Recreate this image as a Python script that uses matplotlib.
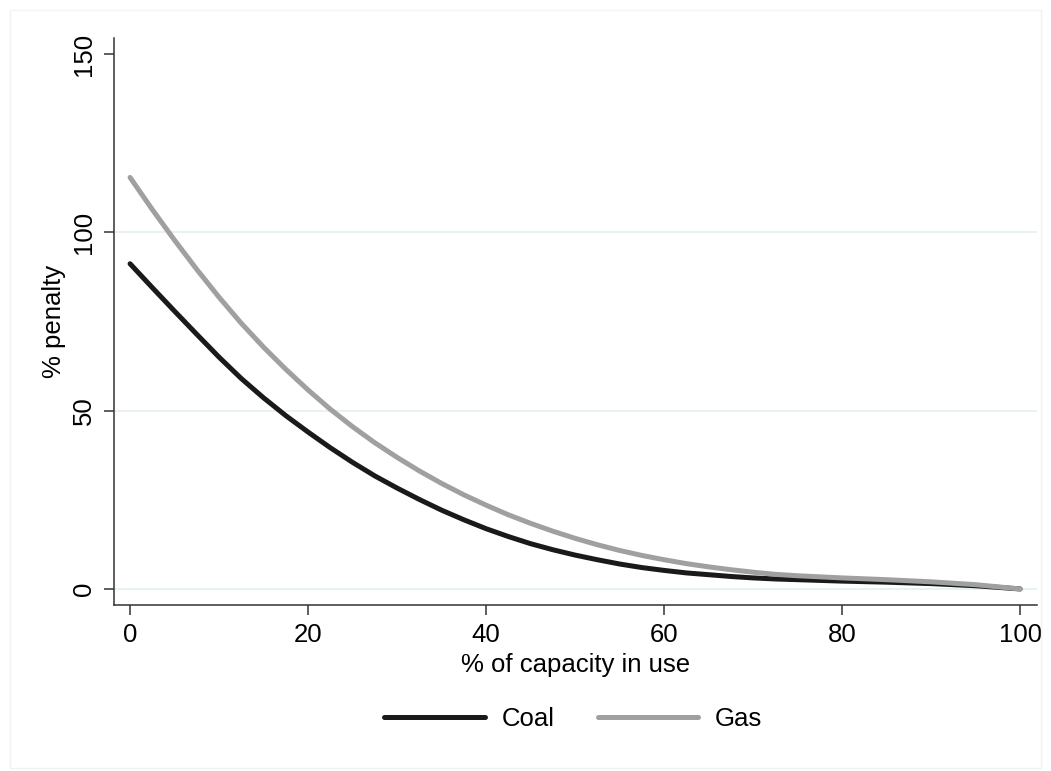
import numpy as np
import matplotlib
matplotlib.use("Agg")
import matplotlib.pyplot as plt
from matplotlib.patches import Rectangle

plt.rcParams['font.family'] = ['Liberation Sans', 'DejaVu Sans']

# values (every 2.5 up to 80, then every 5)
capacity = [0, 2.5, 5, 7.5, 10, 12.5, 15, 17.5, 20, 22.5, 25, 27.5, 30, 32.5,
            35, 37.5, 40, 42.5, 45, 47.5, 50, 52.5, 55, 57.5, 60, 62.5, 65,
            67.5, 70, 72.5, 75, 77.5, 80, 85, 90, 95, 100]
coal = [91.2, 84.5, 77.9, 71.4, 65.0, 59.0, 53.6, 48.6, 44.0, 39.6, 35.5, 31.7,
        28.3, 25.1, 22.1, 19.4, 16.9, 14.7, 12.7, 11.0, 9.5, 8.2, 7.0, 6.0,
        5.2, 4.5, 4.0, 3.5, 3.1, 2.8, 2.6, 2.4, 2.2, 1.9, 1.5, 0.9, 0]
gas = [115.4, 106.4, 97.8, 89.6, 81.8, 74.5, 67.8, 61.6, 55.8, 50.4, 45.5, 41.0,
       36.9, 33.1, 29.6, 26.4, 23.5, 20.8, 18.4, 16.2, 14.2, 12.4, 10.8, 9.4,
       8.2, 7.1, 6.2, 5.4, 4.7, 4.1, 3.7, 3.4, 3.1, 2.6, 2.0, 1.2, 0]
yticks = [0, 50, 100, 150]
xticks = [0, 20, 40, 60, 80, 100]

fs = 18.5

fig = plt.figure(figsize=(10.51, 7.71), dpi=100)
fig.patches.append(Rectangle((0.0095, 0.004), 0.981, 0.983, transform=fig.transFigure,
                             fill=False, edgecolor='#f2f2f2', linewidth=1))
ax = fig.add_axes([0.1085, 0.2153, 0.8782, 0.7354])

for y in yticks[:-1]:
    ax.axhline(y, color='#e4eff2', linewidth=1.2, zorder=0)

ax.plot(capacity, coal, color='#1a1a1a', linewidth=3.6, solid_capstyle='round',
        solid_joinstyle='round', label='Coal')
ax.plot(capacity, gas, color='#a0a0a0', linewidth=3.6, solid_capstyle='round',
        solid_joinstyle='round', label='Gas')

ax.set_xlim(-1.8, 101.9)
ax.set_ylim(-4.5, 154.5)
ax.set_xticks(xticks)
ax.set_yticks(yticks)
ax.spines['top'].set_visible(False)
ax.spines['right'].set_visible(False)
for s in ['left', 'bottom']:
    ax.spines[s].set_color('#333333')
    ax.spines[s].set_linewidth(1.1)
ax.tick_params(direction='out', length=7, width=1.1, color='#333333',
               labelsize=fs, pad=6)
for lab in ax.get_yticklabels():
    lab.set_rotation(90)
    lab.set_va('center')

ax.set_xlabel('% of capacity in use', fontsize=fs, labelpad=4)
ax.set_ylabel('% penalty', fontsize=fs, labelpad=4)

fig.legend(loc='center', bbox_to_anchor=(0.5455, 0.068), ncol=2, frameon=False,
           fontsize=fs, handlelength=3.9, columnspacing=1.7, handletextpad=0.65)

fig.savefig('out.png', dpi=100, facecolor='white')
